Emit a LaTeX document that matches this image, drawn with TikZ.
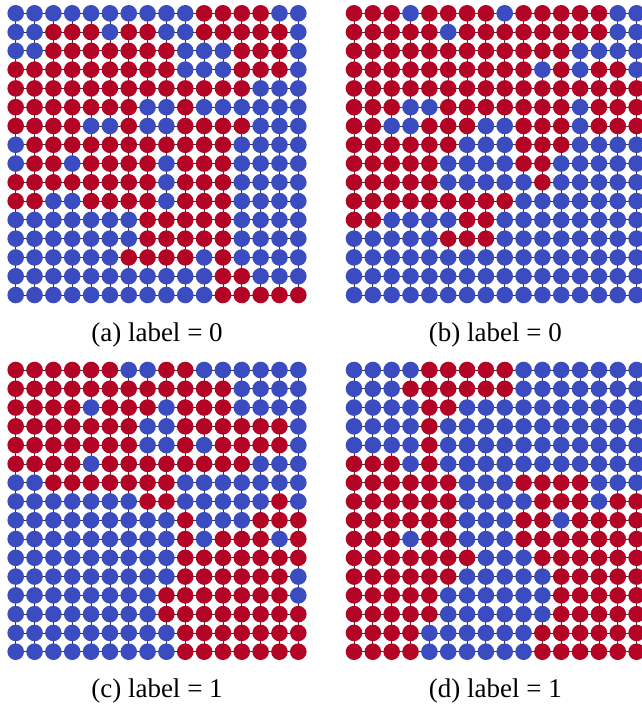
\documentclass[tikz,border=0pt]{standalone}
\usepackage{fontspec}
\setmainfont{Liberation Serif}
\definecolor{cwred}{HTML}{B40426}
\definecolor{cwblue}{HTML}{3B4CC0}
\tikzset{
  gridline/.style={draw=black!80, line width=0.8pt},
  reddot/.style={fill=cwred},
  bluedot/.style={fill=cwblue},
  caption/.style={font=\fontsize{27}{32}\selectfont, inner sep=0pt}
}
\newcommand\lattice[3]{%
  \begin{scope}[shift={(#1,#2)}]
    \foreach \i in {0,...,15}{
      \draw[gridline] (0,\i*18.78) -- (15*18.84,\i*18.78);
      \draw[gridline] (\i*18.84,0) -- (\i*18.84,15*18.78);
    }
    \foreach \row [count=\r from 0] in {#3}{
      \foreach \v [count=\c from 0] in \row{
        \ifnum\v=1 \def\dotsty{reddot}\else\def\dotsty{bluedot}\fi
        \path[\dotsty] (\c*18.84,\r*18.78) circle[radius=8.3pt];
      }
    }
  \end{scope}}
\begin{document}
\begin{tikzpicture}[x=1pt,y=-1pt]
\clip (0,0) rectangle (642,704);
\fill[white] (0,0) rectangle (642,704);
% (a)
\lattice{15.7}{13.3}{%
{0,0,0,0,0,0,0,0,0,0,1,1,1,1,0,0},
{0,0,1,1,1,0,1,1,0,0,1,1,1,1,1,0},
{0,0,1,1,1,1,1,1,1,0,0,0,1,1,1,0},
{1,1,1,1,1,1,1,1,1,0,0,0,1,1,1,0},
{1,1,1,1,1,1,1,1,1,1,1,1,1,0,0,0},
{1,1,1,1,1,1,1,0,0,1,0,0,0,0,0,0},
{1,1,1,1,0,0,1,0,0,1,1,1,1,0,0,0},
{0,1,1,1,1,1,1,1,1,1,1,1,0,0,0,0},
{0,1,1,0,1,1,1,1,0,1,1,1,0,0,0,0},
{1,1,1,1,1,1,1,1,0,1,1,1,0,0,0,0},
{1,1,0,0,1,1,1,1,0,1,1,1,0,0,0,0},
{0,0,0,0,0,0,0,1,1,1,1,1,0,0,0,0},
{0,0,0,0,0,0,0,1,1,1,1,1,0,0,0,0},
{0,0,0,0,0,0,1,1,1,1,0,1,0,0,0,0},
{0,0,0,0,0,0,0,0,0,0,0,1,1,0,0,0},
{0,0,0,0,0,0,0,0,0,0,0,1,1,1,1,1}}
% (b)
\lattice{354}{13.3}{%
{1,1,1,0,1,1,1,1,0,1,1,1,1,1,0,0},
{1,1,1,1,1,0,1,1,1,1,1,1,1,1,0,0},
{1,1,1,1,1,1,1,1,1,1,1,1,0,0,0,0},
{1,1,1,1,1,1,1,1,1,1,0,1,0,1,1,0},
{1,1,1,1,1,1,1,1,1,1,1,1,1,1,1,1},
{1,1,1,0,0,1,1,1,1,1,1,1,0,1,1,1},
{1,1,0,0,1,1,1,0,0,1,1,1,0,1,1,1},
{1,1,1,1,1,1,0,0,0,1,1,1,0,0,0,0},
{1,1,1,1,1,0,0,0,0,1,1,0,0,0,0,0},
{1,1,1,1,1,0,0,0,0,0,1,0,0,0,0,0},
{1,1,1,1,1,1,1,1,1,0,0,0,0,0,0,0},
{1,1,0,0,0,0,1,1,0,0,0,0,0,0,0,0},
{0,0,0,0,0,1,1,1,0,0,0,0,0,0,0,0},
{0,0,0,0,0,0,0,0,0,0,0,0,0,0,0,0},
{0,0,0,0,0,0,0,0,0,0,0,0,0,0,0,0},
{0,0,0,0,0,0,0,0,0,0,0,0,0,0,0,0}}
% (c)
\lattice{15.7}{370}{%
{1,1,1,1,1,1,0,0,1,1,0,0,0,0,0,0},
{1,1,1,1,1,1,1,1,1,1,1,1,0,0,0,0},
{1,1,1,1,0,1,1,1,0,1,1,1,0,0,0,0},
{1,1,1,1,1,1,1,0,0,1,1,1,1,1,1,0},
{1,1,1,1,1,1,1,0,0,1,0,1,1,1,1,0},
{1,1,1,1,0,1,1,1,1,1,1,1,1,0,0,0},
{0,0,1,1,1,1,1,1,1,0,0,0,0,0,0,0},
{0,0,0,0,0,0,0,1,1,0,0,0,0,0,1,0},
{0,0,0,0,0,0,0,0,0,1,0,0,0,1,1,1},
{0,0,0,0,0,0,0,0,0,1,0,1,1,1,0,1},
{0,0,0,0,0,0,0,0,0,1,1,1,1,1,1,1},
{0,0,0,0,0,0,0,0,0,1,1,1,1,1,1,0},
{0,0,0,0,0,0,0,0,1,1,1,1,1,1,1,0},
{0,0,0,0,0,0,0,0,1,1,1,1,1,1,1,1},
{0,0,0,0,0,0,0,0,0,1,1,1,1,1,1,1},
{0,0,0,0,0,0,0,0,0,1,1,1,1,1,1,1}}
% (d)
\lattice{354}{370}{%
{0,0,0,0,1,1,1,1,1,0,0,0,0,0,0,0},
{0,0,0,1,1,1,1,1,1,0,0,0,0,0,0,0},
{0,0,0,0,1,1,0,0,0,0,0,0,0,0,0,0},
{0,0,0,0,1,0,0,0,0,0,0,0,0,0,0,0},
{0,0,0,0,1,0,0,0,0,0,0,0,0,0,0,0},
{1,1,1,0,1,0,0,0,0,0,0,0,0,0,0,0},
{1,1,1,1,1,1,0,0,0,1,1,1,1,0,0,0},
{1,1,1,1,1,1,0,0,0,0,1,1,1,0,1,1},
{1,1,1,1,1,1,0,0,0,1,1,0,1,1,1,1},
{1,1,1,0,1,1,0,0,0,1,1,1,1,1,1,1},
{1,1,1,1,1,1,1,0,0,0,1,1,1,1,1,1},
{1,1,1,1,1,1,0,0,0,0,0,1,1,1,1,1},
{1,1,1,1,1,0,0,0,0,0,0,1,1,1,1,1},
{1,1,1,1,1,0,0,0,0,0,0,1,1,1,1,1},
{1,1,1,1,0,0,0,0,0,0,1,1,1,1,1,1},
{1,1,1,1,0,0,0,0,0,0,1,1,1,1,1,1}}
\node[caption] (capa) at (157,335) {(a) label = 0};
\node[caption] (capb) at (495.3,335) {(b) label = 0};
\node[caption] (capc) at (157,691) {(c) label = 1};
\node[caption] (capd) at (495.3,691) {(d) label = 1};
\end{tikzpicture}
\end{document}
